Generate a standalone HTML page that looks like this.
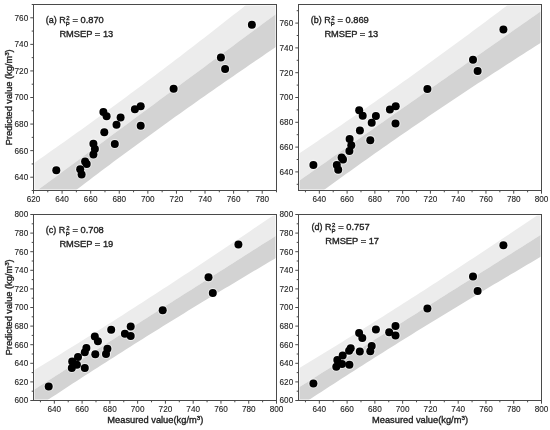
<!DOCTYPE html>
<html><head><meta charset="utf-8"><style>html,body{margin:0;padding:0;background:#fff;}svg{display:block;}svg text{stroke:#222;stroke-width:0.35px;paint-order:stroke;}svg .tl text{stroke-width:0.1px;}</style></head><body>
<svg width="550" height="430" viewBox="0 0 550 430" font-family='"Liberation Sans", Arial, sans-serif'>
<rect width="550" height="430" fill="#fff"/>
<clipPath id="clipa"><rect x="33.5" y="4.5" width="243" height="186"/></clipPath>
<g clip-path="url(#clipa)">
<polygon fill="#ececec" points="31.5,164.78 35.62,161.91 39.73,159.03 43.85,156.15 47.97,153.26 52.08,150.36 56.2,147.46 60.32,144.55 64.43,141.63 68.55,138.7 72.67,135.77 76.78,132.83 80.9,129.88 85.02,126.92 89.13,123.95 93.25,120.98 97.37,118 101.48,115.01 105.6,112.01 109.72,109.01 113.83,105.99 117.95,102.97 122.07,99.94 126.18,96.9 130.3,93.85 134.42,90.8 138.53,87.73 142.65,84.66 146.77,81.58 150.88,78.49 155,75.4 159.12,72.29 163.23,69.18 167.35,66.06 171.47,62.93 175.58,59.8 179.7,56.65 183.82,53.5 187.93,50.34 192.05,47.17 196.17,44 200.28,40.82 204.4,37.63 208.52,34.43 212.63,31.23 216.75,28.02 220.87,24.81 224.98,21.58 229.1,18.35 233.22,15.12 237.33,11.88 241.45,8.63 245.57,5.37 249.68,2.11 253.8,-1.15 257.92,-4.42 262.03,-7.7 266.15,-10.98 270.27,-14.27 274.38,-17.56 278.5,-20.86 278.5,12.18 274.38,15.22 270.27,18.26 266.15,21.3 262.03,24.34 257.92,27.38 253.8,30.42 249.68,33.46 245.57,36.51 241.45,39.55 237.33,42.59 233.22,45.63 229.1,48.67 224.98,51.71 220.87,54.75 216.75,57.79 212.63,60.83 208.52,63.87 204.4,66.91 200.28,69.95 196.17,72.99 192.05,76.03 187.93,79.07 183.82,82.11 179.7,85.16 175.58,88.2 171.47,91.24 167.35,94.28 163.23,97.32 159.12,100.36 155,103.4 150.88,106.44 146.77,109.48 142.65,112.52 138.53,115.56 134.42,118.6 130.3,121.64 126.18,124.68 122.07,127.72 117.95,130.77 113.83,133.81 109.72,136.85 105.6,139.89 101.48,142.93 97.37,145.97 93.25,149.01 89.13,152.05 85.02,155.09 80.9,158.13 76.78,161.17 72.67,164.21 68.55,167.25 64.43,170.29 60.32,173.33 56.2,176.38 52.08,179.42 47.97,182.46 43.85,185.5 39.73,188.54 35.62,191.58 31.5,194.62"/>
<polygon fill="#d3d3d3" points="31.5,194.62 35.62,191.58 39.73,188.54 43.85,185.5 47.97,182.46 52.08,179.42 56.2,176.38 60.32,173.33 64.43,170.29 68.55,167.25 72.67,164.21 76.78,161.17 80.9,158.13 85.02,155.09 89.13,152.05 93.25,149.01 97.37,145.97 101.48,142.93 105.6,139.89 109.72,136.85 113.83,133.81 117.95,130.77 122.07,127.72 126.18,124.68 130.3,121.64 134.42,118.6 138.53,115.56 142.65,112.52 146.77,109.48 150.88,106.44 155,103.4 159.12,100.36 163.23,97.32 167.35,94.28 171.47,91.24 175.58,88.2 179.7,85.16 183.82,82.11 187.93,79.07 192.05,76.03 196.17,72.99 200.28,69.95 204.4,66.91 208.52,63.87 212.63,60.83 216.75,57.79 220.87,54.75 224.98,51.71 229.1,48.67 233.22,45.63 237.33,42.59 241.45,39.55 245.57,36.51 249.68,33.46 253.8,30.42 257.92,27.38 262.03,24.34 266.15,21.3 270.27,18.26 274.38,15.22 278.5,12.18 278.5,45.22 274.38,48 270.27,50.79 266.15,53.59 262.03,56.38 257.92,59.19 253.8,62 249.68,64.81 245.57,67.64 241.45,70.46 237.33,73.3 233.22,76.14 229.1,78.98 224.98,81.83 220.87,84.69 216.75,87.56 212.63,90.43 208.52,93.31 204.4,96.19 200.28,99.09 196.17,101.99 192.05,104.89 187.93,107.81 183.82,110.73 179.7,113.66 175.58,116.6 171.47,119.54 167.35,122.49 163.23,125.46 159.12,128.42 155,131.4 150.88,134.39 146.77,137.38 142.65,140.38 138.53,143.39 134.42,146.41 130.3,149.43 126.18,152.47 122.07,155.51 117.95,158.56 113.83,161.62 109.72,164.69 105.6,167.76 101.48,170.85 97.37,173.94 93.25,177.04 89.13,180.15 85.02,183.26 80.9,186.39 76.78,189.52 72.67,192.66 68.55,195.8 64.43,198.96 60.32,202.12 56.2,205.29 52.08,208.47 47.97,211.65 43.85,214.85 39.73,218.04 35.62,221.25 31.5,224.46"/>
</g>
<rect x="34.5" y="5.5" width="241" height="184" fill="none" stroke="#fff" stroke-opacity="0.5" stroke-width="1"/>
<g fill="#fff" opacity="0.55">
<circle cx="56.3" cy="170.3" r="5.1"/>
<circle cx="80.2" cy="169.3" r="5.1"/>
<circle cx="81.6" cy="174.4" r="5.1"/>
<circle cx="85.1" cy="161.6" r="5.1"/>
<circle cx="86.7" cy="164" r="5.1"/>
<circle cx="93.4" cy="143.7" r="5.1"/>
<circle cx="94.9" cy="149.1" r="5.1"/>
<circle cx="93.4" cy="154.4" r="5.1"/>
<circle cx="103.4" cy="112" r="5.1"/>
<circle cx="106.6" cy="116.3" r="5.1"/>
<circle cx="104.3" cy="132.3" r="5.1"/>
<circle cx="114.8" cy="144" r="5.1"/>
<circle cx="116.5" cy="124.7" r="5.1"/>
<circle cx="120.6" cy="117.4" r="5.1"/>
<circle cx="134.9" cy="109.2" r="5.1"/>
<circle cx="140.7" cy="106.3" r="5.1"/>
<circle cx="140.7" cy="125.7" r="5.1"/>
<circle cx="173.6" cy="88.7" r="5.1"/>
<circle cx="220.9" cy="57.5" r="5.1"/>
<circle cx="225.1" cy="69.1" r="5.1"/>
<circle cx="251.9" cy="24.8" r="5.1"/>
</g>
<g fill="#000" stroke="none">
<circle cx="56.3" cy="170.3" r="4.0"/>
<circle cx="80.2" cy="169.3" r="4.0"/>
<circle cx="81.6" cy="174.4" r="4.0"/>
<circle cx="85.1" cy="161.6" r="4.0"/>
<circle cx="86.7" cy="164" r="4.0"/>
<circle cx="93.4" cy="143.7" r="4.0"/>
<circle cx="94.9" cy="149.1" r="4.0"/>
<circle cx="93.4" cy="154.4" r="4.0"/>
<circle cx="103.4" cy="112" r="4.0"/>
<circle cx="106.6" cy="116.3" r="4.0"/>
<circle cx="104.3" cy="132.3" r="4.0"/>
<circle cx="114.8" cy="144" r="4.0"/>
<circle cx="116.5" cy="124.7" r="4.0"/>
<circle cx="120.6" cy="117.4" r="4.0"/>
<circle cx="134.9" cy="109.2" r="4.0"/>
<circle cx="140.7" cy="106.3" r="4.0"/>
<circle cx="140.7" cy="125.7" r="4.0"/>
<circle cx="173.6" cy="88.7" r="4.0"/>
<circle cx="220.9" cy="57.5" r="4.0"/>
<circle cx="225.1" cy="69.1" r="4.0"/>
<circle cx="251.9" cy="24.8" r="4.0"/>
</g>
<rect x="33.5" y="4.5" width="243" height="186" fill="none" stroke="#4a4a4a" stroke-width="1"/>
<path d="M33.5,190.5v3.2M62.09,190.5v3.2M90.68,190.5v3.2M119.26,190.5v3.2M147.85,190.5v3.2M176.44,190.5v3.2M205.03,190.5v3.2M233.62,190.5v3.2M262.21,190.5v3.2M47.79,190.5v1.8M76.38,190.5v1.8M104.97,190.5v1.8M133.56,190.5v1.8M162.15,190.5v1.8M190.74,190.5v1.8M219.32,190.5v1.8M247.91,190.5v1.8M276.5,190.5v1.8M33.5,177.21h-3.2M33.5,150.64h-3.2M33.5,124.07h-3.2M33.5,97.5h-3.2M33.5,70.93h-3.2M33.5,44.36h-3.2M33.5,17.79h-3.2M33.5,190.5h-1.8M33.5,163.93h-1.8M33.5,137.36h-1.8M33.5,110.79h-1.8M33.5,84.21h-1.8M33.5,57.64h-1.8M33.5,31.07h-1.8M33.5,4.5h-1.8" stroke="#4a4a4a" stroke-width="1" fill="none"/>
<g class="tl" font-size="8.2" fill="#222">
<text transform="translate(33.5,202.1) scale(1,1.12)" text-anchor="middle">620</text>
<text transform="translate(62.09,202.1) scale(1,1.12)" text-anchor="middle">640</text>
<text transform="translate(90.68,202.1) scale(1,1.12)" text-anchor="middle">660</text>
<text transform="translate(119.26,202.1) scale(1,1.12)" text-anchor="middle">680</text>
<text transform="translate(147.85,202.1) scale(1,1.12)" text-anchor="middle">700</text>
<text transform="translate(176.44,202.1) scale(1,1.12)" text-anchor="middle">720</text>
<text transform="translate(205.03,202.1) scale(1,1.12)" text-anchor="middle">740</text>
<text transform="translate(233.62,202.1) scale(1,1.12)" text-anchor="middle">760</text>
<text transform="translate(262.21,202.1) scale(1,1.12)" text-anchor="middle">780</text>
<text transform="translate(28.2,180.11) scale(1,1.12)" text-anchor="end">640</text>
<text transform="translate(28.2,153.54) scale(1,1.12)" text-anchor="end">660</text>
<text transform="translate(28.2,126.97) scale(1,1.12)" text-anchor="end">680</text>
<text transform="translate(28.2,100.4) scale(1,1.12)" text-anchor="end">700</text>
<text transform="translate(28.2,73.83) scale(1,1.12)" text-anchor="end">720</text>
<text transform="translate(28.2,47.26) scale(1,1.12)" text-anchor="end">740</text>
<text transform="translate(28.2,20.69) scale(1,1.12)" text-anchor="end">760</text>
</g>
<g fill="#222" transform="translate(45.8,23) scale(1,1.0)">
<text font-size="9" x="0" y="0">(a) R</text>
<text font-size="6" x="20.4" y="-3.3">2</text>
<text font-size="6" x="20" y="2.6">P</text>
<text font-size="9.3" x="26.7" y="0">= 0.870</text>
<text font-size="9.3" x="13.6" y="13.6">RMSEP = 13</text>
</g>
<clipPath id="clipb"><rect x="298.5" y="4.5" width="243" height="186"/></clipPath>
<g clip-path="url(#clipb)">
<polygon fill="#ececec" points="296.5,155.12 300.62,152.38 304.73,149.64 308.85,146.9 312.97,144.14 317.08,141.38 321.2,138.61 325.32,135.83 329.43,133.05 333.55,130.26 337.67,127.46 341.78,124.65 345.9,121.83 350.02,119.01 354.13,116.18 358.25,113.34 362.37,110.49 366.48,107.64 370.6,104.77 374.72,101.9 378.83,99.02 382.95,96.13 387.07,93.24 391.18,90.33 395.3,87.42 399.42,84.5 403.53,81.57 407.65,78.63 411.77,75.69 415.88,72.74 420,69.78 424.12,66.81 428.23,63.83 432.35,60.85 436.47,57.86 440.58,54.86 444.7,51.85 448.82,48.84 452.93,45.82 457.05,42.79 461.17,39.75 465.28,36.71 469.4,33.66 473.52,30.61 477.63,27.54 481.75,24.48 485.87,21.4 489.98,18.32 494.1,15.23 498.22,12.14 502.33,9.04 506.45,5.94 510.57,2.83 514.68,-0.28 518.8,-3.41 522.92,-6.53 527.03,-9.66 531.15,-12.8 535.27,-15.94 539.38,-19.08 543.5,-22.23 543.5,9.39 539.38,12.28 535.27,15.17 531.15,18.05 527.03,20.94 522.92,23.83 518.8,26.71 514.68,29.6 510.57,32.49 506.45,35.37 502.33,38.26 498.22,41.15 494.1,44.03 489.98,46.92 485.87,49.81 481.75,52.69 477.63,55.58 473.52,58.47 469.4,61.35 465.28,64.24 461.17,67.13 457.05,70.01 452.93,72.9 448.82,75.79 444.7,78.68 440.58,81.56 436.47,84.45 432.35,87.34 428.23,90.22 424.12,93.11 420,96 415.88,98.88 411.77,101.77 407.65,104.66 403.53,107.54 399.42,110.43 395.3,113.32 391.18,116.2 387.07,119.09 382.95,121.98 378.83,124.86 374.72,127.75 370.6,130.64 366.48,133.52 362.37,136.41 358.25,139.3 354.13,142.18 350.02,145.07 345.9,147.96 341.78,150.84 337.67,153.73 333.55,156.62 329.43,159.51 325.32,162.39 321.2,165.28 317.08,168.17 312.97,171.05 308.85,173.94 304.73,176.83 300.62,179.71 296.5,182.6"/>
<polygon fill="#d3d3d3" points="296.5,182.6 300.62,179.71 304.73,176.83 308.85,173.94 312.97,171.05 317.08,168.17 321.2,165.28 325.32,162.39 329.43,159.51 333.55,156.62 337.67,153.73 341.78,150.84 345.9,147.96 350.02,145.07 354.13,142.18 358.25,139.3 362.37,136.41 366.48,133.52 370.6,130.64 374.72,127.75 378.83,124.86 382.95,121.98 387.07,119.09 391.18,116.2 395.3,113.32 399.42,110.43 403.53,107.54 407.65,104.66 411.77,101.77 415.88,98.88 420,96 424.12,93.11 428.23,90.22 432.35,87.34 436.47,84.45 440.58,81.56 444.7,78.68 448.82,75.79 452.93,72.9 457.05,70.01 461.17,67.13 465.28,64.24 469.4,61.35 473.52,58.47 477.63,55.58 481.75,52.69 485.87,49.81 489.98,46.92 494.1,44.03 498.22,41.15 502.33,38.26 506.45,35.37 510.57,32.49 514.68,29.6 518.8,26.71 522.92,23.83 527.03,20.94 531.15,18.05 535.27,15.17 539.38,12.28 543.5,9.39 543.5,41.02 539.38,43.64 535.27,46.27 531.15,48.9 527.03,51.54 522.92,54.18 518.8,56.83 514.68,59.48 510.57,62.14 506.45,64.81 502.33,67.48 498.22,70.15 494.1,72.83 489.98,75.52 485.87,78.21 481.75,80.91 477.63,83.62 473.52,86.33 469.4,89.05 465.28,91.77 461.17,94.5 457.05,97.24 452.93,99.99 448.82,102.74 444.7,105.5 440.58,108.27 436.47,111.04 432.35,113.82 428.23,116.61 424.12,119.41 420,122.22 415.88,125.03 411.77,127.85 407.65,130.68 403.53,133.51 399.42,136.36 395.3,139.21 391.18,142.07 387.07,144.94 382.95,147.82 378.83,150.71 374.72,153.6 370.6,156.5 366.48,159.41 362.37,162.33 358.25,165.26 354.13,168.19 350.02,171.13 345.9,174.08 341.78,177.04 337.67,180.01 333.55,182.98 329.43,185.96 325.32,188.95 321.2,191.95 317.08,194.95 312.97,197.96 308.85,200.98 304.73,204.01 300.62,207.04 296.5,210.08"/>
</g>
<rect x="299.5" y="5.5" width="241" height="184" fill="none" stroke="#fff" stroke-opacity="0.5" stroke-width="1"/>
<g fill="#fff" opacity="0.55">
<circle cx="313.4" cy="164.9" r="5.1"/>
<circle cx="336.8" cy="164.9" r="5.1"/>
<circle cx="338.2" cy="169.8" r="5.1"/>
<circle cx="341.6" cy="157.6" r="5.1"/>
<circle cx="343" cy="159.6" r="5.1"/>
<circle cx="349.6" cy="139.1" r="5.1"/>
<circle cx="351.3" cy="145.3" r="5.1"/>
<circle cx="349.4" cy="150.9" r="5.1"/>
<circle cx="359.2" cy="110.2" r="5.1"/>
<circle cx="362.7" cy="115.8" r="5.1"/>
<circle cx="375.9" cy="116.1" r="5.1"/>
<circle cx="371.7" cy="122.8" r="5.1"/>
<circle cx="359.9" cy="130.5" r="5.1"/>
<circle cx="370.3" cy="140.2" r="5.1"/>
<circle cx="389.9" cy="109.5" r="5.1"/>
<circle cx="395.7" cy="106.3" r="5.1"/>
<circle cx="395.5" cy="123.5" r="5.1"/>
<circle cx="427.4" cy="89" r="5.1"/>
<circle cx="473" cy="59.7" r="5.1"/>
<circle cx="477.6" cy="71.1" r="5.1"/>
<circle cx="503.4" cy="29.6" r="5.1"/>
</g>
<g fill="#000" stroke="none">
<circle cx="313.4" cy="164.9" r="4.0"/>
<circle cx="336.8" cy="164.9" r="4.0"/>
<circle cx="338.2" cy="169.8" r="4.0"/>
<circle cx="341.6" cy="157.6" r="4.0"/>
<circle cx="343" cy="159.6" r="4.0"/>
<circle cx="349.6" cy="139.1" r="4.0"/>
<circle cx="351.3" cy="145.3" r="4.0"/>
<circle cx="349.4" cy="150.9" r="4.0"/>
<circle cx="359.2" cy="110.2" r="4.0"/>
<circle cx="362.7" cy="115.8" r="4.0"/>
<circle cx="375.9" cy="116.1" r="4.0"/>
<circle cx="371.7" cy="122.8" r="4.0"/>
<circle cx="359.9" cy="130.5" r="4.0"/>
<circle cx="370.3" cy="140.2" r="4.0"/>
<circle cx="389.9" cy="109.5" r="4.0"/>
<circle cx="395.7" cy="106.3" r="4.0"/>
<circle cx="395.5" cy="123.5" r="4.0"/>
<circle cx="427.4" cy="89" r="4.0"/>
<circle cx="473" cy="59.7" r="4.0"/>
<circle cx="477.6" cy="71.1" r="4.0"/>
<circle cx="503.4" cy="29.6" r="4.0"/>
</g>
<rect x="298.5" y="4.5" width="243" height="186" fill="none" stroke="#4a4a4a" stroke-width="1"/>
<path d="M319.33,190.5v3.2M347.1,190.5v3.2M374.87,190.5v3.2M402.64,190.5v3.2M430.41,190.5v3.2M458.19,190.5v3.2M485.96,190.5v3.2M513.73,190.5v3.2M541.5,190.5v3.2M305.44,190.5v1.8M333.21,190.5v1.8M360.99,190.5v1.8M388.76,190.5v1.8M416.53,190.5v1.8M444.3,190.5v1.8M472.07,190.5v1.8M499.84,190.5v1.8M527.61,190.5v1.8M298.5,171.9h-3.2M298.5,147.1h-3.2M298.5,122.3h-3.2M298.5,97.5h-3.2M298.5,72.7h-3.2M298.5,47.9h-3.2M298.5,23.1h-3.2M298.5,184.3h-1.8M298.5,159.5h-1.8M298.5,134.7h-1.8M298.5,109.9h-1.8M298.5,85.1h-1.8M298.5,60.3h-1.8M298.5,35.5h-1.8M298.5,10.7h-1.8" stroke="#4a4a4a" stroke-width="1" fill="none"/>
<g class="tl" font-size="8.2" fill="#222">
<text transform="translate(319.33,202.1) scale(1,1.12)" text-anchor="middle">640</text>
<text transform="translate(347.1,202.1) scale(1,1.12)" text-anchor="middle">660</text>
<text transform="translate(374.87,202.1) scale(1,1.12)" text-anchor="middle">680</text>
<text transform="translate(402.64,202.1) scale(1,1.12)" text-anchor="middle">700</text>
<text transform="translate(430.41,202.1) scale(1,1.12)" text-anchor="middle">720</text>
<text transform="translate(458.19,202.1) scale(1,1.12)" text-anchor="middle">740</text>
<text transform="translate(485.96,202.1) scale(1,1.12)" text-anchor="middle">760</text>
<text transform="translate(513.73,202.1) scale(1,1.12)" text-anchor="middle">780</text>
<text transform="translate(541.5,202.1) scale(1,1.12)" text-anchor="middle">800</text>
<text transform="translate(293.2,174.8) scale(1,1.12)" text-anchor="end">640</text>
<text transform="translate(293.2,150) scale(1,1.12)" text-anchor="end">660</text>
<text transform="translate(293.2,125.2) scale(1,1.12)" text-anchor="end">680</text>
<text transform="translate(293.2,100.4) scale(1,1.12)" text-anchor="end">700</text>
<text transform="translate(293.2,75.6) scale(1,1.12)" text-anchor="end">720</text>
<text transform="translate(293.2,50.8) scale(1,1.12)" text-anchor="end">740</text>
<text transform="translate(293.2,26) scale(1,1.12)" text-anchor="end">760</text>
</g>
<g fill="#222" transform="translate(310.8,23) scale(1,1.0)">
<text font-size="9" x="0" y="0">(b) R</text>
<text font-size="6" x="20.4" y="-3.3">2</text>
<text font-size="6" x="20" y="2.6">P</text>
<text font-size="9.3" x="26.7" y="0">= 0.869</text>
<text font-size="9.3" x="13.6" y="13.6">RMSEP = 13</text>
</g>
<clipPath id="clipc"><rect x="33.5" y="214.5" width="243" height="186"/></clipPath>
<g clip-path="url(#clipc)">
<polygon fill="#ececec" points="31.5,371.84 35.62,369.33 39.73,366.82 43.85,364.3 47.97,361.77 52.08,359.24 56.2,356.71 60.32,354.17 64.43,351.62 68.55,349.07 72.67,346.51 76.78,343.95 80.9,341.38 85.02,338.81 89.13,336.23 93.25,333.64 97.37,331.05 101.48,328.46 105.6,325.86 109.72,323.25 113.83,320.64 117.95,318.02 122.07,315.39 126.18,312.76 130.3,310.12 134.42,307.48 138.53,304.84 142.65,302.18 146.77,299.52 150.88,296.86 155,294.19 159.12,291.51 163.23,288.83 167.35,286.14 171.47,283.45 175.58,280.75 179.7,278.05 183.82,275.34 187.93,272.63 192.05,269.91 196.17,267.19 200.28,264.46 204.4,261.73 208.52,258.99 212.63,256.25 216.75,253.51 220.87,250.76 224.98,248 229.1,245.24 233.22,242.48 237.33,239.71 241.45,236.94 245.57,234.16 249.68,231.38 253.8,228.6 257.92,225.82 262.03,223.03 266.15,220.23 270.27,217.43 274.38,214.63 278.5,211.83 278.5,234.15 274.38,236.76 270.27,239.38 266.15,242 262.03,244.62 257.92,247.24 253.8,249.86 249.68,252.47 245.57,255.09 241.45,257.71 237.33,260.33 233.22,262.95 229.1,265.57 224.98,268.19 220.87,270.8 216.75,273.42 212.63,276.04 208.52,278.66 204.4,281.28 200.28,283.9 196.17,286.51 192.05,289.13 187.93,291.75 183.82,294.37 179.7,296.99 175.58,299.61 171.47,302.22 167.35,304.84 163.23,307.46 159.12,310.08 155,312.7 150.88,315.32 146.77,317.94 142.65,320.55 138.53,323.17 134.42,325.79 130.3,328.41 126.18,331.03 122.07,333.65 117.95,336.26 113.83,338.88 109.72,341.5 105.6,344.12 101.48,346.74 97.37,349.36 93.25,351.98 89.13,354.59 85.02,357.21 80.9,359.83 76.78,362.45 72.67,365.07 68.55,367.69 64.43,370.3 60.32,372.92 56.2,375.54 52.08,378.16 47.97,380.78 43.85,383.4 39.73,386.01 35.62,388.63 31.5,391.25"/>
<polygon fill="#d3d3d3" points="31.5,391.25 35.62,388.63 39.73,386.01 43.85,383.4 47.97,380.78 52.08,378.16 56.2,375.54 60.32,372.92 64.43,370.3 68.55,367.69 72.67,365.07 76.78,362.45 80.9,359.83 85.02,357.21 89.13,354.59 93.25,351.98 97.37,349.36 101.48,346.74 105.6,344.12 109.72,341.5 113.83,338.88 117.95,336.26 122.07,333.65 126.18,331.03 130.3,328.41 134.42,325.79 138.53,323.17 142.65,320.55 146.77,317.94 150.88,315.32 155,312.7 159.12,310.08 163.23,307.46 167.35,304.84 171.47,302.22 175.58,299.61 179.7,296.99 183.82,294.37 187.93,291.75 192.05,289.13 196.17,286.51 200.28,283.9 204.4,281.28 208.52,278.66 212.63,276.04 216.75,273.42 220.87,270.8 224.98,268.19 229.1,265.57 233.22,262.95 237.33,260.33 241.45,257.71 245.57,255.09 249.68,252.47 253.8,249.86 257.92,247.24 262.03,244.62 266.15,242 270.27,239.38 274.38,236.76 278.5,234.15 278.5,256.46 274.38,258.89 270.27,261.33 266.15,263.77 262.03,266.21 257.92,268.66 253.8,271.11 249.68,273.56 245.57,276.02 241.45,278.48 237.33,280.95 233.22,283.42 229.1,285.89 224.98,288.37 220.87,290.85 216.75,293.34 212.63,295.83 208.52,298.32 204.4,300.82 200.28,303.33 196.17,305.84 192.05,308.35 187.93,310.87 183.82,313.39 179.7,315.92 175.58,318.46 171.47,321 167.35,323.54 163.23,326.09 159.12,328.65 155,331.21 150.88,333.78 146.77,336.35 142.65,338.93 138.53,341.51 134.42,344.1 130.3,346.69 126.18,349.29 122.07,351.9 117.95,354.51 113.83,357.13 109.72,359.75 105.6,362.38 101.48,365.02 97.37,367.66 93.25,370.31 89.13,372.96 85.02,375.62 80.9,378.28 76.78,380.95 72.67,383.62 68.55,386.3 64.43,388.99 60.32,391.68 56.2,394.38 52.08,397.08 47.97,399.78 43.85,402.5 39.73,405.21 35.62,407.93 31.5,410.66"/>
</g>
<rect x="34.5" y="215.5" width="241" height="184" fill="none" stroke="#fff" stroke-opacity="0.5" stroke-width="1"/>
<g fill="#fff" opacity="0.55">
<circle cx="48.7" cy="386.5" r="5.1"/>
<circle cx="72.2" cy="361.5" r="5.1"/>
<circle cx="71.8" cy="368" r="5.1"/>
<circle cx="78" cy="357.1" r="5.1"/>
<circle cx="76.9" cy="364.8" r="5.1"/>
<circle cx="86.4" cy="348" r="5.1"/>
<circle cx="84.8" cy="352.2" r="5.1"/>
<circle cx="84.8" cy="368" r="5.1"/>
<circle cx="94.8" cy="336.5" r="5.1"/>
<circle cx="97.9" cy="341.2" r="5.1"/>
<circle cx="95.3" cy="354.3" r="5.1"/>
<circle cx="107.4" cy="348.8" r="5.1"/>
<circle cx="106" cy="354" r="5.1"/>
<circle cx="111.2" cy="329.8" r="5.1"/>
<circle cx="124.9" cy="333.7" r="5.1"/>
<circle cx="130.7" cy="326.5" r="5.1"/>
<circle cx="130.7" cy="336.1" r="5.1"/>
<circle cx="162.7" cy="310.3" r="5.1"/>
<circle cx="208.5" cy="277.3" r="5.1"/>
<circle cx="212.8" cy="293.1" r="5.1"/>
<circle cx="238.4" cy="244.6" r="5.1"/>
</g>
<g fill="#000" stroke="none">
<circle cx="48.7" cy="386.5" r="4.0"/>
<circle cx="72.2" cy="361.5" r="4.0"/>
<circle cx="71.8" cy="368" r="4.0"/>
<circle cx="78" cy="357.1" r="4.0"/>
<circle cx="76.9" cy="364.8" r="4.0"/>
<circle cx="86.4" cy="348" r="4.0"/>
<circle cx="84.8" cy="352.2" r="4.0"/>
<circle cx="84.8" cy="368" r="4.0"/>
<circle cx="94.8" cy="336.5" r="4.0"/>
<circle cx="97.9" cy="341.2" r="4.0"/>
<circle cx="95.3" cy="354.3" r="4.0"/>
<circle cx="107.4" cy="348.8" r="4.0"/>
<circle cx="106" cy="354" r="4.0"/>
<circle cx="111.2" cy="329.8" r="4.0"/>
<circle cx="124.9" cy="333.7" r="4.0"/>
<circle cx="130.7" cy="326.5" r="4.0"/>
<circle cx="130.7" cy="336.1" r="4.0"/>
<circle cx="162.7" cy="310.3" r="4.0"/>
<circle cx="208.5" cy="277.3" r="4.0"/>
<circle cx="212.8" cy="293.1" r="4.0"/>
<circle cx="238.4" cy="244.6" r="4.0"/>
</g>
<rect x="33.5" y="214.5" width="243" height="186" fill="none" stroke="#4a4a4a" stroke-width="1"/>
<path d="M54.33,400.5v3.2M82.1,400.5v3.2M109.87,400.5v3.2M137.64,400.5v3.2M165.41,400.5v3.2M193.19,400.5v3.2M220.96,400.5v3.2M248.73,400.5v3.2M276.5,400.5v3.2M40.44,400.5v1.8M68.21,400.5v1.8M95.99,400.5v1.8M123.76,400.5v1.8M151.53,400.5v1.8M179.3,400.5v1.8M207.07,400.5v1.8M234.84,400.5v1.8M262.61,400.5v1.8M33.5,400.5h-3.2M33.5,381.9h-3.2M33.5,363.3h-3.2M33.5,344.7h-3.2M33.5,326.1h-3.2M33.5,307.5h-3.2M33.5,288.9h-3.2M33.5,270.3h-3.2M33.5,251.7h-3.2M33.5,233.1h-3.2M33.5,214.5h-3.2M33.5,391.2h-1.8M33.5,372.6h-1.8M33.5,354h-1.8M33.5,335.4h-1.8M33.5,316.8h-1.8M33.5,298.2h-1.8M33.5,279.6h-1.8M33.5,261h-1.8M33.5,242.4h-1.8M33.5,223.8h-1.8" stroke="#4a4a4a" stroke-width="1" fill="none"/>
<g class="tl" font-size="8.2" fill="#222">
<text transform="translate(54.33,412.1) scale(1,1.12)" text-anchor="middle">640</text>
<text transform="translate(82.1,412.1) scale(1,1.12)" text-anchor="middle">660</text>
<text transform="translate(109.87,412.1) scale(1,1.12)" text-anchor="middle">680</text>
<text transform="translate(137.64,412.1) scale(1,1.12)" text-anchor="middle">700</text>
<text transform="translate(165.41,412.1) scale(1,1.12)" text-anchor="middle">720</text>
<text transform="translate(193.19,412.1) scale(1,1.12)" text-anchor="middle">740</text>
<text transform="translate(220.96,412.1) scale(1,1.12)" text-anchor="middle">760</text>
<text transform="translate(248.73,412.1) scale(1,1.12)" text-anchor="middle">780</text>
<text transform="translate(276.5,412.1) scale(1,1.12)" text-anchor="middle">800</text>
<text transform="translate(28.2,403.4) scale(1,1.12)" text-anchor="end">600</text>
<text transform="translate(28.2,384.8) scale(1,1.12)" text-anchor="end">620</text>
<text transform="translate(28.2,366.2) scale(1,1.12)" text-anchor="end">640</text>
<text transform="translate(28.2,347.6) scale(1,1.12)" text-anchor="end">660</text>
<text transform="translate(28.2,329) scale(1,1.12)" text-anchor="end">680</text>
<text transform="translate(28.2,310.4) scale(1,1.12)" text-anchor="end">700</text>
<text transform="translate(28.2,291.8) scale(1,1.12)" text-anchor="end">720</text>
<text transform="translate(28.2,273.2) scale(1,1.12)" text-anchor="end">740</text>
<text transform="translate(28.2,254.6) scale(1,1.12)" text-anchor="end">760</text>
<text transform="translate(28.2,236) scale(1,1.12)" text-anchor="end">780</text>
<text transform="translate(28.2,217.4) scale(1,1.12)" text-anchor="end">800</text>
</g>
<g fill="#222" transform="translate(45.8,233) scale(1,1.0)">
<text font-size="9" x="0" y="0">(c) R</text>
<text font-size="6" x="20.4" y="-3.3">2</text>
<text font-size="6" x="20" y="2.6">P</text>
<text font-size="9.3" x="26.7" y="0">= 0.708</text>
<text font-size="9.3" x="13.6" y="13.6">RMSEP = 19</text>
</g>
<clipPath id="clipd"><rect x="298.5" y="214.5" width="243" height="186"/></clipPath>
<g clip-path="url(#clipd)">
<polygon fill="#ececec" points="296.5,369.81 300.62,367.32 304.73,364.83 308.85,362.33 312.97,359.82 317.08,357.31 321.2,354.8 325.32,352.28 329.43,349.75 333.55,347.22 337.67,344.68 341.78,342.14 345.9,339.59 350.02,337.04 354.13,334.48 358.25,331.92 362.37,329.35 366.48,326.78 370.6,324.2 374.72,321.61 378.83,319.02 382.95,316.42 387.07,313.82 391.18,311.21 395.3,308.59 399.42,305.97 403.53,303.35 407.65,300.72 411.77,298.08 415.88,295.44 420,292.79 424.12,290.14 428.23,287.48 432.35,284.81 436.47,282.14 440.58,279.47 444.7,276.79 448.82,274.1 452.93,271.42 457.05,268.72 461.17,266.02 465.28,263.32 469.4,260.61 473.52,257.89 477.63,255.18 481.75,252.45 485.87,249.73 489.98,247 494.1,244.26 498.22,241.52 502.33,238.78 506.45,236.03 510.57,233.28 514.68,230.52 518.8,227.77 522.92,225 527.03,222.24 531.15,219.47 535.27,216.7 539.38,213.92 543.5,211.14 543.5,233.16 539.38,235.75 535.27,238.35 531.15,240.95 527.03,243.54 522.92,246.14 518.8,248.74 514.68,251.33 510.57,253.93 506.45,256.53 502.33,259.12 498.22,261.72 494.1,264.31 489.98,266.91 485.87,269.51 481.75,272.1 477.63,274.7 473.52,277.3 469.4,279.89 465.28,282.49 461.17,285.09 457.05,287.68 452.93,290.28 448.82,292.87 444.7,295.47 440.58,298.07 436.47,300.66 432.35,303.26 428.23,305.86 424.12,308.45 420,311.05 415.88,313.65 411.77,316.24 407.65,318.84 403.53,321.43 399.42,324.03 395.3,326.63 391.18,329.22 387.07,331.82 382.95,334.42 378.83,337.01 374.72,339.61 370.6,342.21 366.48,344.8 362.37,347.4 358.25,349.99 354.13,352.59 350.02,355.19 345.9,357.78 341.78,360.38 337.67,362.98 333.55,365.57 329.43,368.17 325.32,370.77 321.2,373.36 317.08,375.96 312.97,378.55 308.85,381.15 304.73,383.75 300.62,386.34 296.5,388.94"/>
<polygon fill="#d3d3d3" points="296.5,388.94 300.62,386.34 304.73,383.75 308.85,381.15 312.97,378.55 317.08,375.96 321.2,373.36 325.32,370.77 329.43,368.17 333.55,365.57 337.67,362.98 341.78,360.38 345.9,357.78 350.02,355.19 354.13,352.59 358.25,349.99 362.37,347.4 366.48,344.8 370.6,342.21 374.72,339.61 378.83,337.01 382.95,334.42 387.07,331.82 391.18,329.22 395.3,326.63 399.42,324.03 403.53,321.43 407.65,318.84 411.77,316.24 415.88,313.65 420,311.05 424.12,308.45 428.23,305.86 432.35,303.26 436.47,300.66 440.58,298.07 444.7,295.47 448.82,292.87 452.93,290.28 457.05,287.68 461.17,285.09 465.28,282.49 469.4,279.89 473.52,277.3 477.63,274.7 481.75,272.1 485.87,269.51 489.98,266.91 494.1,264.31 498.22,261.72 502.33,259.12 506.45,256.53 510.57,253.93 514.68,251.33 518.8,248.74 522.92,246.14 527.03,243.54 531.15,240.95 535.27,238.35 539.38,235.75 543.5,233.16 543.5,255.18 539.38,257.59 535.27,260.01 531.15,262.43 527.03,264.85 522.92,267.28 518.8,269.71 514.68,272.14 510.57,274.58 506.45,277.02 502.33,279.47 498.22,281.92 494.1,284.37 489.98,286.83 485.87,289.29 481.75,291.75 477.63,294.22 473.52,296.7 469.4,299.18 465.28,301.66 461.17,304.15 457.05,306.64 452.93,309.14 448.82,311.64 444.7,314.15 440.58,316.67 436.47,319.18 432.35,321.71 428.23,324.24 424.12,326.77 420,329.31 415.88,331.85 411.77,334.4 407.65,336.96 403.53,339.52 399.42,342.09 395.3,344.66 391.18,347.24 387.07,349.82 382.95,352.41 378.83,355.01 374.72,357.61 370.6,360.22 366.48,362.83 362.37,365.45 358.25,368.07 354.13,370.7 350.02,373.33 345.9,375.97 341.78,378.62 337.67,381.27 333.55,383.93 329.43,386.59 325.32,389.26 321.2,391.93 317.08,394.61 312.97,397.29 308.85,399.98 304.73,402.67 300.62,405.37 296.5,408.07"/>
</g>
<rect x="299.5" y="215.5" width="241" height="184" fill="none" stroke="#fff" stroke-opacity="0.5" stroke-width="1"/>
<g fill="#fff" opacity="0.55">
<circle cx="313.4" cy="383.4" r="5.1"/>
<circle cx="342.7" cy="355.6" r="5.1"/>
<circle cx="337.3" cy="360.1" r="5.1"/>
<circle cx="342" cy="364" r="5.1"/>
<circle cx="336.3" cy="366.7" r="5.1"/>
<circle cx="349.4" cy="364.8" r="5.1"/>
<circle cx="350.7" cy="348.2" r="5.1"/>
<circle cx="349.1" cy="350.7" r="5.1"/>
<circle cx="359.1" cy="332.9" r="5.1"/>
<circle cx="362.3" cy="338.1" r="5.1"/>
<circle cx="359.8" cy="351.4" r="5.1"/>
<circle cx="371.7" cy="346" r="5.1"/>
<circle cx="370.3" cy="351.2" r="5.1"/>
<circle cx="375.9" cy="329.5" r="5.1"/>
<circle cx="389.2" cy="332.3" r="5.1"/>
<circle cx="395.5" cy="326" r="5.1"/>
<circle cx="395.5" cy="335.5" r="5.1"/>
<circle cx="427.4" cy="308.5" r="5.1"/>
<circle cx="473" cy="276.5" r="5.1"/>
<circle cx="477.6" cy="291.1" r="5.1"/>
<circle cx="503.4" cy="245.3" r="5.1"/>
</g>
<g fill="#000" stroke="none">
<circle cx="313.4" cy="383.4" r="4.0"/>
<circle cx="342.7" cy="355.6" r="4.0"/>
<circle cx="337.3" cy="360.1" r="4.0"/>
<circle cx="342" cy="364" r="4.0"/>
<circle cx="336.3" cy="366.7" r="4.0"/>
<circle cx="349.4" cy="364.8" r="4.0"/>
<circle cx="350.7" cy="348.2" r="4.0"/>
<circle cx="349.1" cy="350.7" r="4.0"/>
<circle cx="359.1" cy="332.9" r="4.0"/>
<circle cx="362.3" cy="338.1" r="4.0"/>
<circle cx="359.8" cy="351.4" r="4.0"/>
<circle cx="371.7" cy="346" r="4.0"/>
<circle cx="370.3" cy="351.2" r="4.0"/>
<circle cx="375.9" cy="329.5" r="4.0"/>
<circle cx="389.2" cy="332.3" r="4.0"/>
<circle cx="395.5" cy="326" r="4.0"/>
<circle cx="395.5" cy="335.5" r="4.0"/>
<circle cx="427.4" cy="308.5" r="4.0"/>
<circle cx="473" cy="276.5" r="4.0"/>
<circle cx="477.6" cy="291.1" r="4.0"/>
<circle cx="503.4" cy="245.3" r="4.0"/>
</g>
<rect x="298.5" y="214.5" width="243" height="186" fill="none" stroke="#4a4a4a" stroke-width="1"/>
<path d="M319.33,400.5v3.2M347.1,400.5v3.2M374.87,400.5v3.2M402.64,400.5v3.2M430.41,400.5v3.2M458.19,400.5v3.2M485.96,400.5v3.2M513.73,400.5v3.2M541.5,400.5v3.2M305.44,400.5v1.8M333.21,400.5v1.8M360.99,400.5v1.8M388.76,400.5v1.8M416.53,400.5v1.8M444.3,400.5v1.8M472.07,400.5v1.8M499.84,400.5v1.8M527.61,400.5v1.8M298.5,400.5h-3.2M298.5,381.9h-3.2M298.5,363.3h-3.2M298.5,344.7h-3.2M298.5,326.1h-3.2M298.5,307.5h-3.2M298.5,288.9h-3.2M298.5,270.3h-3.2M298.5,251.7h-3.2M298.5,233.1h-3.2M298.5,214.5h-3.2M298.5,391.2h-1.8M298.5,372.6h-1.8M298.5,354h-1.8M298.5,335.4h-1.8M298.5,316.8h-1.8M298.5,298.2h-1.8M298.5,279.6h-1.8M298.5,261h-1.8M298.5,242.4h-1.8M298.5,223.8h-1.8" stroke="#4a4a4a" stroke-width="1" fill="none"/>
<g class="tl" font-size="8.2" fill="#222">
<text transform="translate(319.33,412.1) scale(1,1.12)" text-anchor="middle">640</text>
<text transform="translate(347.1,412.1) scale(1,1.12)" text-anchor="middle">660</text>
<text transform="translate(374.87,412.1) scale(1,1.12)" text-anchor="middle">680</text>
<text transform="translate(402.64,412.1) scale(1,1.12)" text-anchor="middle">700</text>
<text transform="translate(430.41,412.1) scale(1,1.12)" text-anchor="middle">720</text>
<text transform="translate(458.19,412.1) scale(1,1.12)" text-anchor="middle">740</text>
<text transform="translate(485.96,412.1) scale(1,1.12)" text-anchor="middle">760</text>
<text transform="translate(513.73,412.1) scale(1,1.12)" text-anchor="middle">780</text>
<text transform="translate(541.5,412.1) scale(1,1.12)" text-anchor="middle">800</text>
<text transform="translate(293.2,403.4) scale(1,1.12)" text-anchor="end">600</text>
<text transform="translate(293.2,384.8) scale(1,1.12)" text-anchor="end">620</text>
<text transform="translate(293.2,366.2) scale(1,1.12)" text-anchor="end">640</text>
<text transform="translate(293.2,347.6) scale(1,1.12)" text-anchor="end">660</text>
<text transform="translate(293.2,329) scale(1,1.12)" text-anchor="end">680</text>
<text transform="translate(293.2,310.4) scale(1,1.12)" text-anchor="end">700</text>
<text transform="translate(293.2,291.8) scale(1,1.12)" text-anchor="end">720</text>
<text transform="translate(293.2,273.2) scale(1,1.12)" text-anchor="end">740</text>
<text transform="translate(293.2,254.6) scale(1,1.12)" text-anchor="end">760</text>
<text transform="translate(293.2,236) scale(1,1.12)" text-anchor="end">780</text>
<text transform="translate(293.2,217.4) scale(1,1.12)" text-anchor="end">800</text>
</g>
<g fill="#222" transform="translate(311.6,230.4) scale(1,1.0)">
<text font-size="9" x="0" y="0">(d) R</text>
<text font-size="6" x="20.4" y="-3.3">2</text>
<text font-size="6" x="20" y="2.6">P</text>
<text font-size="9.3" x="26.7" y="0">= 0.757</text>
<text font-size="9.3" x="13.6" y="13.6">RMSEP = 17</text>
</g>
<text font-size="9.25" fill="#222" text-anchor="middle" transform="translate(12.0,97.3) rotate(-90)">Predicted value (kg/m<tspan font-size="6.2" dy="-3.4">3</tspan><tspan dy="3.4">)</tspan></text>
<text font-size="9.25" fill="#222" text-anchor="middle" transform="translate(12.0,307.3) rotate(-90)">Predicted value (kg/m<tspan font-size="6.2" dy="-3.4">3</tspan><tspan dy="3.4">)</tspan></text>
<text font-size="9.3" fill="#222" text-anchor="middle" x="155.3" y="423.3">Measured value(kg/m<tspan font-size="6.2" dy="-3.6">3</tspan><tspan dy="3.6">)</tspan></text>
<text font-size="9.3" fill="#222" text-anchor="middle" x="420.0" y="423.3">Measured value(kg/m<tspan font-size="6.2" dy="-3.6">3</tspan><tspan dy="3.6">)</tspan></text>
</svg></body></html>
